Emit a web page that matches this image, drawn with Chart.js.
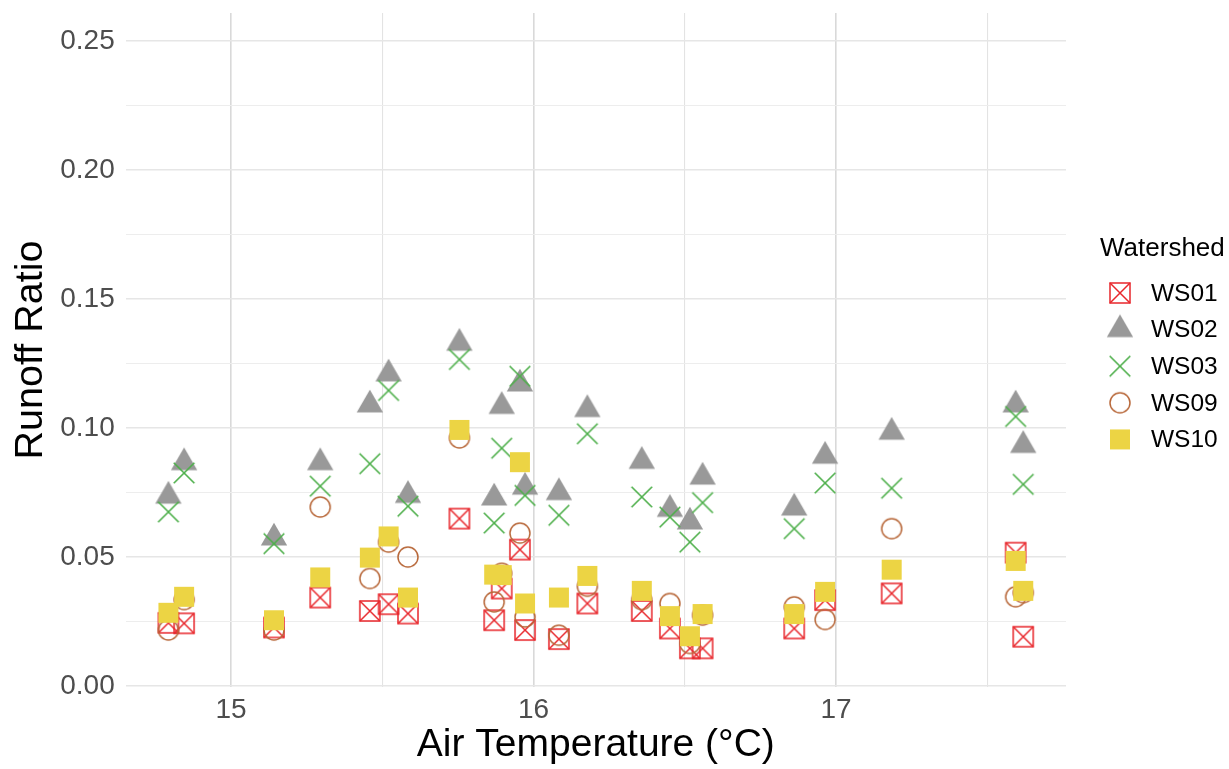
<!DOCTYPE html>
<html>
<head>
<meta charset="utf-8">
<script src="https://cdn.jsdelivr.net/npm/chart.js@4.4.1/dist/chart.umd.min.js"></script>
<style>
  html, body { margin: 0; padding: 0; background: #ffffff; }
  #wrap { width: 1229px; height: 769px; position: relative; }
</style>
</head>
<body>
<div id="wrap"><canvas id="c"></canvas></div>
<script>
// ---------------- data ----------------
const seriesNames = ["WS01", "WS02", "WS03", "WS09", "WS10"];
const airTemp = [14.793, 14.845, 15.142, 15.295, 15.459, 15.521, 15.585, 15.755, 15.870, 15.895, 15.955, 15.972,
                 16.084, 16.178, 16.358, 16.451, 16.517, 16.559, 16.862, 16.964, 17.184, 17.594, 17.619];
const ws01 = [0.0245, 0.0243, 0.0227, 0.0343, 0.0291, 0.0317, 0.0281, 0.0649, 0.0255, 0.0378, 0.0529, 0.0217,
              0.0182, 0.0320, 0.0291, 0.0223, 0.0146, 0.0146, 0.0223, 0.0333, 0.0359, 0.0517, 0.0191];
const ws02 = [0.0736, 0.0866, 0.0574, 0.0866, 0.1090, 0.1210, 0.0739, 0.1329, 0.0729, 0.1084, 0.1171, 0.0771,
              0.0750, 0.1072, 0.0871, 0.0685, 0.0636, 0.0810, 0.0690, 0.0891, 0.0984, 0.1090, 0.0933];
const ws03 = [0.0675, 0.0826, 0.0552, 0.0775, 0.0862, 0.1146, 0.0697, 0.1266, 0.0632, 0.0922, 0.1201, 0.0739,
              0.0662, 0.0978, 0.0733, 0.0655, 0.0558, 0.0711, 0.0610, 0.0787, 0.0767, 0.1045, 0.0782];
const ws09 = [0.0217, 0.0335, 0.0217, 0.0694, 0.0417, 0.0558, 0.0500, 0.0962, 0.0326, 0.0437, 0.0593, 0.0268,
              0.0197, 0.0387, 0.0335, 0.0320, 0.0165, 0.0275, 0.0307, 0.0258, 0.0610, 0.0346, 0.0362];
const ws10 = [0.0284, 0.0346, 0.0255, 0.0421, 0.0498, 0.0580, 0.0343, 0.0993, 0.0432, 0.0430, 0.0868, 0.0320,
              0.0343, 0.0427, 0.0369, 0.0271, 0.0193, 0.0279, 0.0279, 0.0365, 0.0451, 0.0485, 0.0369];
const xTickValues = [15, 15.5, 16, 16.5, 17, 17.5];
const xTickLabels = ["15", "", "16", "", "17", ""];
const yTickValues = [0, 0.025, 0.05, 0.075, 0.10, 0.125, 0.15, 0.175, 0.20, 0.225, 0.25];
const yTickLabels = ["0.00", "", "0.05", "", "0.10", "", "0.15", "", "0.20", "", "0.25"];
const xTitle = "Air Temperature (°C)";
const yTitle = "Runoff Ratio";
const legendTitle = "Watershed";

// ---------------- symbols ----------------
const S = 34, C = S / 2;
function makeSymbol(kind) {
  const cv = document.createElement('canvas');
  cv.width = S; cv.height = S;
  const g = cv.getContext('2d');
  g.lineCap = 'butt';
  if (kind === 'boxx') {
    g.strokeStyle = '#E8262B'; g.lineWidth = 1.5;
    const h = 10;
    g.strokeRect(C - h, C - h, 2 * h, 2 * h);
    g.beginPath();
    g.moveTo(C - h, C - h); g.lineTo(C + h, C + h);
    g.moveTo(C + h, C - h); g.lineTo(C - h, C + h);
    g.stroke();
  } else if (kind === 'tri') {
    g.fillStyle = '#999999';
    const r = 15.2;
    g.beginPath();
    g.moveTo(C, C - r);
    g.lineTo(C + r * Math.sqrt(3) / 2, C + r / 2);
    g.lineTo(C - r * Math.sqrt(3) / 2, C + r / 2);
    g.closePath(); g.fill();
  } else if (kind === 'x') {
    g.strokeStyle = '#4DAF4A'; g.lineWidth = 1.6;
    const h = 10.3;
    g.beginPath();
    g.moveTo(C - h, C - h); g.lineTo(C + h, C + h);
    g.moveTo(C + h, C - h); g.lineTo(C - h, C + h);
    g.stroke();
  } else if (kind === 'circ') {
    g.strokeStyle = '#B8683A'; g.lineWidth = 1.5;
    g.beginPath(); g.arc(C, C, 10, 0, Math.PI * 2); g.stroke();
  } else if (kind === 'sq') {
    g.fillStyle = '#ECD444';
    g.fillRect(C - 10, C - 10, 20, 20);
  }
  return cv;
}
const symbols = [makeSymbol('boxx'), makeSymbol('tri'), makeSymbol('x'), makeSymbol('circ'), makeSymbol('sq')];
const seriesValues = [ws01, ws02, ws03, ws09, ws10];

const datasets = seriesNames.map((name, i) => ({
  label: name,
  data: airTemp.map((t, j) => ({ x: t, y: seriesValues[i][j] })),
  pointStyle: symbols[i],
  pointRadius: 12,
  order: seriesNames.length - i
}));

// ---------------- layout constants ----------------
const AREA_LEFT = 125.7, AREA_RIGHT = 1066, AREA_TOP = 11.7, AREA_BOTTOM = 687;
const FONT = "'Liberation Sans', Arial, sans-serif";

const legendPlugin = {
  id: 'ggLegend',
  afterDraw(chart) {
    const ctx = chart.ctx;
    ctx.save();
    ctx.fillStyle = '#000000';
    ctx.textBaseline = 'middle';
    ctx.textAlign = 'left';
    ctx.font = "26px " + FONT;
    ctx.fillText(legendTitle, 1100, 249);
    ctx.font = "24.5px " + FONT;
    seriesNames.forEach((name, i) => {
      const y = 293 + i * 36.6;
      ctx.drawImage(symbols[i], 1120 - C, y - C);
      ctx.fillStyle = '#000000';
      ctx.fillText(name, 1151, y + 1);
    });
    ctx.restore();
  }
};

new Chart(document.getElementById('c'), {
  type: 'scatter',
  data: { datasets },
  options: {
    responsive: true,
    maintainAspectRatio: false,
    animation: false,
    events: [],
    layout: { padding: { left: 0, right: 1229 - AREA_RIGHT, top: AREA_TOP, bottom: 0 } },
    plugins: { legend: { display: false }, tooltip: { enabled: false } },
    scales: {
      x: {
        type: 'linear',
        min: 14.6519, max: 17.7604,
        afterFit(scale) {
          scale.height = 769 - AREA_BOTTOM;
          scale.paddingLeft = 0; scale.paddingRight = 0;
        },
        afterBuildTicks(scale) { scale.ticks = xTickValues.map(v => ({ value: v })); },
        border: { display: false },
        grid: {
          drawTicks: false,
          color: ctx => (ctx.tick && Number.isInteger(ctx.tick.value)) ? '#D9D9D9' : '#E3E3E3',
          lineWidth: ctx => (ctx.tick && Number.isInteger(ctx.tick.value)) ? 1.6 : 1.1
        },
        ticks: {
          autoSkip: false, maxRotation: 0,
          padding: 6,
          color: '#4D4D4D',
          font: { family: FONT, size: 28 },
          callback: (v, i) => xTickLabels[i]
        },
        title: {
          display: true, text: xTitle, color: '#000000',
          font: { family: FONT, size: 39 },
          padding: { top: 0, bottom: 0 }
        }
      },
      y: {
        type: 'linear',
        min: -0.000387, max: 0.26095,
        afterFit(scale) {
          scale.width = AREA_LEFT;
          scale.paddingTop = 0; scale.paddingBottom = 0;
        },
        afterBuildTicks(scale) { scale.ticks = yTickValues.map(v => ({ value: v })); },
        border: { display: false },
        grid: {
          drawTicks: false,
          color: ctx => (ctx.index % 2 === 0) ? '#E6E6E6' : '#EDEDED',
          lineWidth: ctx => (ctx.index % 2 === 0) ? 1.6 : 1.1
        },
        ticks: {
          autoSkip: false,
          padding: 11,
          color: '#4D4D4D',
          font: { family: FONT, size: 28 },
          callback: (v, i) => yTickLabels[i]
        },
        title: {
          display: true, text: yTitle, color: '#000000',
          font: { family: FONT, size: 39.5 },
          padding: { top: 7, bottom: 0 }
        }
      }
    }
  },
  plugins: [legendPlugin]
});
</script>
</body>
</html>
